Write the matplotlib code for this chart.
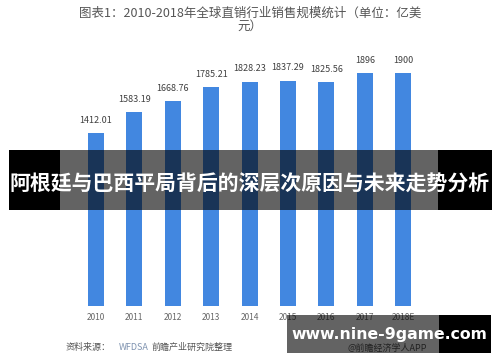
import matplotlib
matplotlib.use("Agg")
import matplotlib.pyplot as plt
from matplotlib.patches import Rectangle

plt.rcParams['font.family'] = ['Noto Sans CJK SC', 'DejaVu Sans']

years = ["2010", "2011", "2012", "2013", "2014", "2015", "2016", "2017", "2018E"]
sales = [1412.01, 1583.19, 1668.76, 1785.21, 1828.23, 1837.29, 1825.56, 1896, 1900]
value_labels = ["1412.01", "1583.19", "1668.76", "1785.21", "1828.23",
                "1837.29", "1825.56", "1896", "1900"]

title = "图表1：2010-2018年全球直销行业销售规模统计（单位：亿美\n元）"
banner = "阿根廷与巴西平局背后的深层次原因与未来走势分析"
site = "www.nine-9game.com"

W, H = 500, 362
fig = plt.figure(figsize=(W / 100, H / 100), dpi=100)
fig.patch.set_facecolor("white")

# axes placed so that bar centres land at 96..403 px, baseline at 306 px
left_px, right_px = 76.8, 422.4
bottom_px, top_px = 306, 73
ax = fig.add_axes([left_px / W, (H - bottom_px) / H,
                   (right_px - left_px) / W, (bottom_px - top_px) / H])
x = list(range(len(years)))
ax.bar(x, sales, width=0.42, color="#4287e0")
ax.set_xlim(-0.5, len(years) - 0.5)
ax.set_ylim(0, 1900)
for xi, v, lab in zip(x, sales, value_labels):
    ax.annotate(lab, (xi, v), xytext=(0, 6), textcoords="offset points",
                ha="center", va="bottom", fontsize=6.5, color="#404040")
ax.set_xticks(x)
ax.set_xticklabels(years, fontsize=6, color="#666666")
ax.tick_params(axis="x", length=0, pad=5)
ax.set_yticks([])
for s in ax.spines.values():
    s.set_visible(False)

fig.text(0.5, 1 - 7 / H, title, ha="center", va="top", fontsize=9,
         color="#555555", linespacing=1.0)

# source note and app credit
fig.text(66 / W, 1 - 347 / H, "资料来源：", fontsize=6.5, color="#555555",
         va="center", ha="left", style="italic")
fig.text(119 / W, 1 - 347 / H, "WFDSA", fontsize=6.5, color="#7f93b0",
         va="center", ha="left", style="italic")
fig.text(152 / W, 1 - 347 / H, "前瞻产业研究院整理", fontsize=6.5, color="#555555",
         va="center", ha="left", style="italic")
fig.text(348 / W, 1 - 348 / H, "@前瞻经济学人APP", fontsize=6.5, color="#555555",
         va="center", ha="left")

def fig_rect(x0, y0, x1, y1, **kw):
    r = Rectangle((x0 / W, 1 - y1 / H), (x1 - x0) / W, (y1 - y0) / H,
                  transform=fig.transFigure, linewidth=0, **kw)
    fig.add_artist(r)

# middle banner
fig_rect(9, 150, 60, 210, facecolor="black", zorder=5)
fig_rect(60, 150, 438, 210, facecolor="black", alpha=0.61, zorder=5)
fig_rect(438, 150, 492, 210, facecolor="black", zorder=5)
fig.text(0.5, 1 - 184 / H, banner, ha="center", va="center", fontsize=15,
         color="white", fontweight="bold", zorder=6)

# bottom-right banner
fig_rect(287, 315, 439, 353, facecolor="black", alpha=0.61, zorder=5)
fig_rect(439, 315, 491, 353, facecolor="black", zorder=5)
fig.text(389 / W, 1 - 335 / H, site, ha="center", va="center", fontsize=11.3,
         color="white", fontweight="bold", family="DejaVu Sans", zorder=6)

fig.savefig("out.png", dpi=100)
